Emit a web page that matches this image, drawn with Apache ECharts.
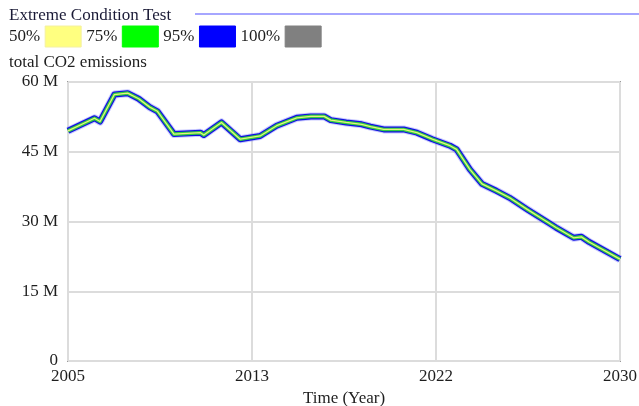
<!DOCTYPE html>
<html><head><meta charset="utf-8">
<script src="https://cdn.jsdelivr.net/npm/echarts@6/dist/echarts.min.js"></script>
<style>html,body{margin:0;padding:0;background:#fff}#c{width:639px;height:406px}</style>
</head><body><div id="c"></div>
<script>
var titleText = 'Extreme Condition Test';
var varName = 'total CO2 emissions';
var legendLabels = ['50%', '75%', '95%', '100%'];
var legendColors = ['#ffff80', '#00ff00', '#0000ff', '#808080'];
var xTickLabels = ['2005', '2013', '2022', '2030'];
var yTickLabels = ['0', '15 M', '30 M', '45 M', '60 M'];
var years = [2005.0, 2006.2, 2006.45, 2007.1, 2007.7, 2008.2, 2008.7, 2009.05, 2009.8, 2011.0, 2011.15, 2011.95, 2012.8, 2013.7, 2014.45, 2015.36, 2016.0, 2016.6, 2016.9, 2017.6, 2018.3, 2018.7, 2019.3, 2020.2, 2020.8, 2021.5, 2022.3, 2022.6, 2023.2, 2023.75, 2024.4, 2025.0, 2025.8, 2026.6, 2027.1, 2027.9, 2028.25, 2028.6, 2030.0];
var emissions = [49.5, 52.2, 51.5, 57.3, 57.6, 56.4, 54.6, 53.7, 48.8, 49.1, 48.6, 51.3, 47.7, 48.4, 50.6, 52.3, 52.6, 52.6, 51.8, 51.3, 50.9, 50.4, 49.8, 49.8, 49.1, 47.7, 46.3, 45.5, 41.2, 38.1, 36.6, 35.1, 32.6, 30.2, 28.7, 26.5, 26.7, 25.6, 21.9];

var startYear = 2005, endYear = 2030;
var pts = years.map(function (y, i) { return [y - startYear, emissions[i] * 1e6]; });

var font = '"Liberation Serif", "Times New Roman", serif';
var txt = '#1e1e1e';
var fs = 17;

var ctx = document.createElement('canvas').getContext('2d');
ctx.font = fs + 'px ' + font;

var graphics = [
  { type: 'text', x: 9, y: 16, style: { text: titleText, font: fs + 'px ' + font, fill: '#1a1a36', textVerticalAlign: 'middle' } },
  { type: 'line', shape: { x1: 195, y1: 14, x2: 639, y2: 14 }, style: { stroke: '#a6a6ff', lineWidth: 2 } },
  { type: 'text', x: 9, y: 63, style: { text: varName, font: fs + 'px ' + font, fill: txt, textVerticalAlign: 'middle' } }
];
var lx = 9;
legendLabels.forEach(function (lab, i) {
  graphics.push({ type: 'text', x: lx, y: 37, style: { text: lab, font: fs + 'px ' + font, fill: txt, textVerticalAlign: 'middle' } });
  lx += ctx.measureText(lab).width + 5;
  graphics.push({ type: 'rect', shape: { x: lx, y: 26, width: 36, height: 21 }, style: { fill: legendColors[i], stroke: i === 0 ? '#f4f0a0' : legendColors[i], lineWidth: 1 } });
  lx += 41;
});

var chart = echarts.init(document.getElementById('c'));
function band(color, width, z) {
  return { type: 'line', data: pts, showSymbol: false, symbol: 'none', z: z, silent: true,
    lineStyle: { color: color, width: width, join: 'round' } };
}
chart.setOption({
  animation: false,
  grid: { left: 68, right: 19, top: 82, bottom: 45, show: true, borderColor: '#9a9a9a', borderWidth: 2,
    containLabel: false, outerBoundsMode: 'none' },
  graphic: graphics,
  xAxis: {
    type: 'value', min: 0, max: endYear - startYear, interval: (endYear - startYear) / 3,
    name: 'Time (Year)', nameLocation: 'middle', nameGap: 27,
    nameTextStyle: { fontFamily: font, fontSize: fs, color: txt },
    axisLine: { show: false }, axisTick: { show: false },
    axisLabel: { fontFamily: font, fontSize: fs, color: txt, margin: 7,
      formatter: function (v) { return xTickLabels[Math.round(v / ((endYear - startYear) / 3))]; } },
    splitLine: { show: true, lineStyle: { color: '#dcdcdc', width: 2 } }
  },
  yAxis: {
    type: 'value', min: 0, max: 60e6, interval: 15e6,
    axisLine: { show: false }, axisTick: { show: false },
    axisLabel: { fontFamily: font, fontSize: fs, color: txt, margin: 10,
      formatter: function (v) { return yTickLabels[Math.round(v / 15e6)]; } },
    splitLine: { show: true, lineStyle: { color: '#dcdcdc', width: 2 } }
  },
  series: [
    band('rgba(120,120,255,0.4)', 8, 1),
    band('#1010e0', 6, 2),
    band('#30d040', 3.6, 3),
    band('#e8f080', 1.3, 4)
  ]
});
</script></body></html>
